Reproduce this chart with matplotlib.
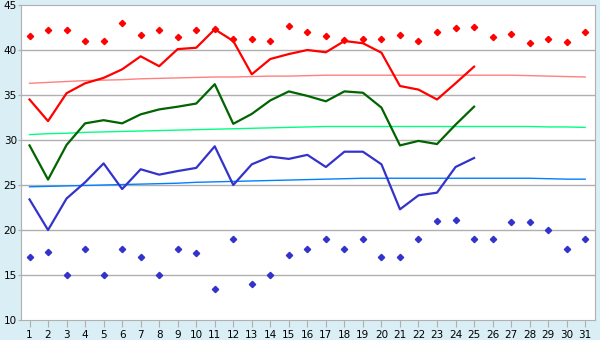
import numpy as np
import matplotlib
matplotlib.use("Agg")
import matplotlib.pyplot as plt

days = list(range(1, 32))
obs_days = list(range(1, 26))

# daily average max / mean / min (observed, days 1-25)
avg_max = [34.5, 32.1, 35.2, 36.3, 36.9, 37.85, 39.3, 38.2, 40.1, 40.25,
           42.3, 41.0, 37.3, 39.0, 39.55, 40.0, 39.75, 41.0, 40.75, 39.7,
           36.0, 35.6, 34.5, 36.3, 38.15]
avg_mean = [29.4, 25.6, 29.45, 31.85, 32.2, 31.85, 32.85, 33.4, 33.7, 34.05,
            36.2, 31.8, 32.9, 34.4, 35.4, 34.9, 34.3, 35.4, 35.25, 33.6,
            29.4, 29.9, 29.55, 31.7, 33.7]
avg_min = [23.4, 20.0, 23.5, 25.3, 27.4, 24.55, 26.75, 26.15, 26.55, 26.9,
           29.3, 25.0, 27.3, 28.15, 27.9, 28.35, 27.0, 28.7, 28.7, 27.3,
           22.3, 23.85, 24.15, 27.0, 28.0]

# absolute extremes per day
abs_max = [41.55, 42.2, 42.2, 41.0, 41.0, 43.0, 41.65, 42.2, 41.4, 42.2,
           42.3, 41.2, 41.2, 41.0, 42.7, 41.95, 41.6, 41.1, 41.2, 41.2,
           41.65, 40.95, 41.95, 42.4, 42.6, 41.4, 41.75, 40.75, 41.2, 40.85,
           41.95]
abs_min = [17.0, 17.6, 15.0, 17.85, 15.0, 17.85, 17.0, 15.0, 17.85, 17.4,
           13.4, 19.0, 13.95, 15.0, 17.2, 17.85, 19.0, 17.85, 19.0, 17.0,
           17.0, 19.0, 21.0, 21.1, 19.0, 19.0, 20.85, 20.85, 19.95, 17.85,
           19.0]

# climate normals
norm_max = [36.3, 36.4, 36.5, 36.6, 36.65, 36.7, 36.8, 36.85, 36.9, 36.95,
            37.0, 37.0, 37.05, 37.1, 37.1, 37.15, 37.2, 37.2, 37.2, 37.2,
            37.2, 37.2, 37.2, 37.2, 37.2, 37.2, 37.2, 37.15, 37.1, 37.05,
            37.0]
norm_mean = [30.6, 30.7, 30.75, 30.85, 30.9, 30.95, 31.0, 31.05, 31.1, 31.15,
             31.2, 31.25, 31.3, 31.35, 31.4, 31.45, 31.5, 31.5, 31.5, 31.5,
             31.5, 31.5, 31.5, 31.5, 31.5, 31.5, 31.5, 31.5, 31.45, 31.45,
             31.4]
norm_min = [24.8, 24.85, 24.9, 24.95, 25.0, 25.05, 25.1, 25.15, 25.2, 25.3,
            25.35, 25.4, 25.45, 25.5, 25.55, 25.6, 25.65, 25.7, 25.75, 25.75,
            25.75, 25.75, 25.75, 25.75, 25.75, 25.75, 25.75, 25.75, 25.7, 25.65,
            25.65]

bg = "#daeef5"
grid_c = "#b0b0b0"

fig = plt.figure(figsize=(6, 3.4), dpi=100, facecolor=bg)
ax = fig.add_axes([0.035, 0.0588, 0.957, 0.9265])
ax.set_facecolor("white")

for y in range(15, 45, 5):
    ax.axhline(y, color=grid_c, lw=1, zorder=1)

ax.plot(days, norm_max, color="#ff8080", lw=1, zorder=2)
ax.plot(days, norm_mean, color="#00ff80", lw=1, zorder=2)
ax.plot(days, norm_min, color="#0080ff", lw=1, zorder=2)

ax.plot(obs_days, avg_max, color="#ff0000", lw=1.6, zorder=3)
ax.plot(obs_days, avg_mean, color="#006400", lw=1.6, zorder=3)
ax.plot(obs_days, avg_min, color="#3333cc", lw=1.6, zorder=3)

ax.plot(days, abs_max, ls="none", marker="D", ms=3.2, color="#ff0000", zorder=4)
ax.plot(days, abs_min, ls="none", marker="D", ms=3.2, color="#3333cc", zorder=4)

ax.set_xlim(0.54, 31.54)
ax.set_ylim(10, 45)
ax.set_xticks(days)
ax.set_yticks(range(10, 50, 5))
for s in ax.spines.values():
    s.set_color(grid_c)
ax.tick_params(axis="both", colors=grid_c, labelcolor="black", labelsize=7.5)
ax.tick_params(axis="x", length=5, pad=2)
ax.tick_params(axis="y", length=2, pad=1)

fig.savefig("out.png", dpi=100, facecolor=bg)
